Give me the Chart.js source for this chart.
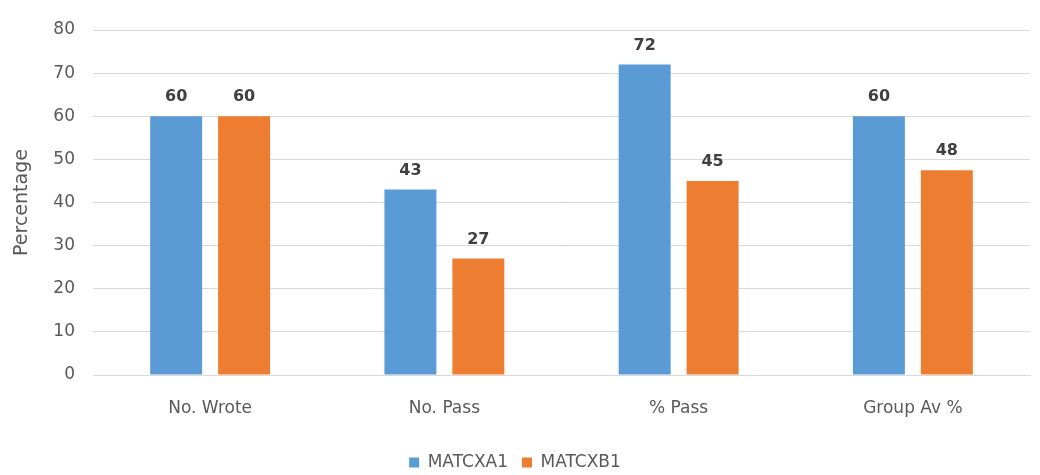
<!DOCTYPE html>
<html>
<head>
<meta charset="utf-8">
<script src="https://cdn.jsdelivr.net/npm/chart.js@4/dist/chart.umd.min.js"></script>
<style>
  html, body { margin: 0; padding: 0; background: #fff; }
  #wrap { width: 1040px; height: 475px; }
</style>
</head>
<body>
<div id="wrap"><canvas id="chart" width="1040" height="475"></canvas></div>
<script>
var categories = ['No. Wrote', 'No. Pass', '% Pass', 'Group Av %']
var matcxa1 = [60, 43, 72, 60]
var matcxb1 = [60, 27, 45, 47.5]
var yTicks = [0, 10, 20, 30, 40, 50, 60, 70, 80]

var FONT = '"DejaVu Sans", sans-serif'

// draws the value above each bar
var barLabels = {
  id: 'barLabels',
  afterDatasetsDraw: function (chart) {
    var ctx = chart.ctx
    ctx.save()
    ctx.font = 'bold 16px ' + FONT
    ctx.fillStyle = '#404040'
    ctx.textAlign = 'center'
    ctx.textBaseline = 'bottom'
    chart.data.datasets.forEach(function (ds, i) {
      chart.getDatasetMeta(i).data.forEach(function (bar, j) {
        ctx.fillText(Math.round(ds.data[j]), bar.x, bar.y - 11)
      })
    })
    ctx.restore()
  }
}

var ctx = document.getElementById('chart').getContext('2d')
var chart = new Chart(ctx, {
  type: 'bar',
  data: {
    labels: categories,
    datasets: [{
      label: 'MATCXA1',
      data: matcxa1,
      backgroundColor: '#5b9bd5'
    }, {
      label: 'MATCXB1',
      data: matcxb1,
      backgroundColor: '#ed7d31'
    }]
  },
  options: {
    responsive: false,
    animation: false,
    categoryPercentage: 0.58,
    barPercentage: 0.765,
    layout: { padding: { top: 30, right: 10, left: 0, bottom: -6 } },
    plugins: {
      legend: {
        position: 'bottom',
        labels: {
          boxWidth: 10,
          boxHeight: 10,
          padding: 14,
          color: '#595959',
          font: { family: FONT, size: 17 }
        }
      },
      tooltip: { enabled: false }
    },
    scales: {
      x: {
        grid: { display: false },
        border: { color: '#d9d9d9' },
        ticks: { color: '#595959', font: { family: FONT, size: 17 }, padding: 15 },
        afterFit: function (s) { s.height = 65 }
      },
      y: {
        min: 0,
        max: 80,
        afterBuildTicks: function (s) { s.ticks = yTicks.map(function (v) { return { value: v } }) },
        grid: { color: '#d9d9d9', drawTicks: false },
        border: { display: false },
        ticks: { color: '#595959', font: { family: FONT, size: 17 }, padding: 18 },
        title: {
          display: true,
          text: 'Percentage',
          color: '#595959',
          font: { family: FONT, size: 19 },
          padding: { top: 11, bottom: 0 }
        },
        afterFit: function (s) { s.width = 93 }
      }
    }
  },
  plugins: [barLabels]
})
</script>
</body>
</html>
